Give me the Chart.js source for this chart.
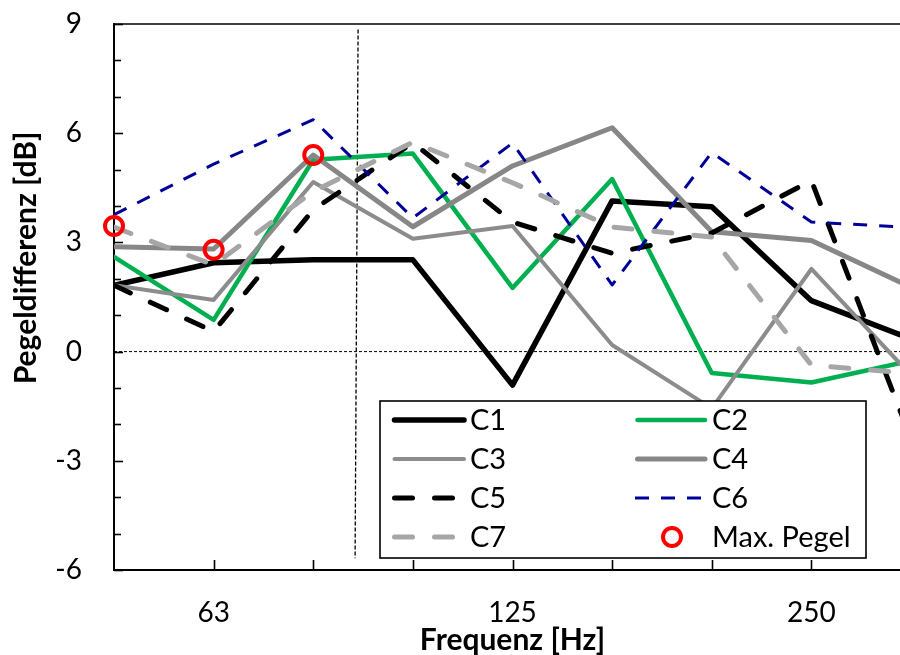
<!DOCTYPE html>
<html><head><meta charset="utf-8">
<script src="https://cdn.jsdelivr.net/npm/chart.js@4.4.1/dist/chart.umd.min.js"></script>
<style>
html,body{margin:0;padding:0;background:#fff;overflow:hidden;width:900px;height:655px}
#wrap{position:absolute;left:0;top:0;width:930px;height:655px}
</style>
</head><body><div id="wrap"><canvas id="c"></canvas></div>
<script>
// ---- data ----
const freqLabels = ['50','63','80','100','125','160','200','250','315'];
const shownTickLabels = ['63','125','250'];
const c1 = [1.82, 2.44, 2.52, 2.52, -0.92, 4.14, 3.98, 1.40, 0.35];
const c2 = [2.60, 0.87, 5.27, 5.44, 1.75, 4.74, -0.59, -0.85, -0.25];
const c3 = [1.82, 1.42, 4.66, 3.10, 3.45, 0.18, -1.56, 2.27, -0.65];
const c4 = [2.88, 2.82, 5.40, 3.43, 5.10, 6.15, 3.29, 3.05, 1.77];
const c5 = [1.82, 0.55, 3.90, 5.74, 3.56, 2.70, 3.26, 4.70, -2.40];
const c6 = [3.76, 5.15, 6.37, 3.67, 5.73, 1.83, 5.47, 3.56, 3.41];
const c7 = [3.42, 2.38, 4.40, 5.75, 4.64, 3.42, 3.15, -0.37, -0.60];
const maxPegel = [3.45, 2.80, 5.40, null, null, null, null, null, null];
const seriesNames = ['C1','C2','C3','C4','C5','C6','C7','Max. Pegel'];
const yTicks = [-6, -3, 0, 3, 6, 9];
const markerLineX = [2.45, 2.42];   // vertical marker (index position ~ 89 Hz)
const markerLineY = [8.85, -5.68];
const yTitle = 'Pegeldifferenz [dB]';
const xTitle = 'Frequenz [Hz]';

const toXY = arr => arr.map((v, i) => ({x: i, y: v}));
const FONT = 'Lato';

function lineDs(label, data, color, width, dash, order) {
  return {label, data: toXY(data), borderColor: color, backgroundColor: color,
    borderWidth: width, borderDash: dash || [], borderCapStyle: 'round',
    borderJoinStyle: 'round', pointRadius: 0, tension: 0, fill: false, order};
}

const datasets = [
  {label: seriesNames[7], data: toXY(maxPegel), showLine: false, pointStyle: 'circle',
   pointRadius: 9, pointBorderWidth: 4, pointBorderColor: '#ff0000',
   pointBackgroundColor: 'rgba(0,0,0,0)', borderColor: '#ff0000', order: 0, clip: false},
  lineDs(seriesNames[6], c7, '#a6a6a6', 5, [18, 22], 1),
  Object.assign(lineDs(seriesNames[5], c6, '#000099', 3, [14, 12], 2), {borderCapStyle: 'butt'}),
  lineDs(seriesNames[4], c5, '#000000', 5, [18, 22], 3),
  lineDs(seriesNames[3], c4, '#878787', 5, null, 4),
  lineDs(seriesNames[2], c3, '#8c8c8c', 4, null, 5),
  lineDs(seriesNames[1], c2, '#00b050', 4.5, null, 6),
  lineDs(seriesNames[0], c1, '#000000', 5.5, null, 7),
  {label: 'zero', data: [{x: 0, y: 0}, {x: freqLabels.length - 1, y: 0}], borderColor: '#000',
   borderWidth: 1, borderDash: [3, 2], pointRadius: 0, order: 9},
  {label: 'marker', data: markerLineX.map((x, i) => ({x, y: markerLineY[i]})), borderColor: '#000',
   borderWidth: 1.3, borderDash: [4, 2], pointRadius: 0, order: 8}
];

const extras = {
  id: 'extras',
  afterDatasetsDraw(chart) {
    const {ctx, chartArea: a, scales: {x, y}} = chart;
    ctx.save();
    ctx.strokeStyle = '#000'; ctx.lineWidth = 1.6;
    ctx.beginPath(); ctx.moveTo(a.left, a.top); ctx.lineTo(a.right, a.top); ctx.stroke();
    for (let v = yTicks[0]; v <= yTicks[yTicks.length - 1]; v += 1) {
      const py = Math.round(y.getPixelForValue(v)) + 0.5;
      const len = yTicks.includes(v) ? 9 : 7;
      ctx.beginPath(); ctx.moveTo(a.left, py); ctx.lineTo(a.left + len, py); ctx.stroke();
    }
    for (let i = 1; i < freqLabels.length - 1; i++) {
      const px = Math.round(x.getPixelForValue(i)) + 0.5;
      ctx.beginPath(); ctx.moveTo(px, a.bottom); ctx.lineTo(px, a.bottom - 10); ctx.stroke();
    }
    ctx.fillStyle = '#000';
    ctx.font = 'bold 30px ' + FONT;
    ctx.textAlign = 'center'; ctx.textBaseline = 'middle';
    ctx.translate(26, 258); ctx.rotate(-Math.PI / 2);
    ctx.fillText(yTitle, 0, 0);
    ctx.restore();

    // legend
    ctx.save();
    const bx = 380, by = 401, bw = 486, bh = 157;
    ctx.fillStyle = '#fff'; ctx.fillRect(bx, by, bw, bh);
    ctx.strokeStyle = '#000'; ctx.lineWidth = 1.6; ctx.strokeRect(bx, by, bw, bh);
    const rows = [['C1','C2'],['C3','C4'],['C5','C6'],['C7','Max. Pegel']];
    const cols = [{s: 392, e: 464, t: 470}, {s: 635, e: 705, t: 712}];
    const dsByLabel = {};
    chart.data.datasets.forEach(d => dsByLabel[d.label] = d);
    ctx.font = '29px ' + FONT; ctx.textBaseline = 'middle'; ctx.textAlign = 'left';
    rows.forEach((r, ri) => {
      const ry = 420 + ri * 39;
      r.forEach((lab, ci) => {
        const c = cols[ci], d = dsByLabel[lab];
        if (d.showLine === false) {
          ctx.beginPath(); ctx.strokeStyle = d.pointBorderColor; ctx.lineWidth = d.pointBorderWidth;
          ctx.setLineDash([]);
          ctx.arc(672, ry, d.pointRadius, 0, Math.PI * 2); ctx.stroke();
        } else {
          ctx.beginPath(); ctx.strokeStyle = d.borderColor; ctx.lineWidth = d.borderWidth;
          ctx.setLineDash(d.borderDash); ctx.lineCap = d.borderCapStyle || 'round';
          ctx.moveTo(c.s + (d.borderCapStyle === 'butt' ? 0 : 2.5), ry); ctx.lineTo(c.e, ry); ctx.stroke();
        }
        ctx.setLineDash([]);
        ctx.fillStyle = '#000';
        ctx.fillText(lab, c.t, ry + 1);
      });
    });
    ctx.restore();
  }
};

new Chart(document.getElementById('c'), {
  type: 'line',
  data: {datasets},
  plugins: [extras],
  options: {
    responsive: true, maintainAspectRatio: false, animation: false,
    layout: {padding: {top: 24, right: 19, left: 0, bottom: 0}},
    plugins: {legend: {display: false}, tooltip: {enabled: false}},
    scales: {
      x: {
        type: 'linear', min: 0, max: freqLabels.length - 1,
        afterFit: s => { s.height = 85; s.paddingLeft = 0; s.paddingRight = 0; },
        grid: {display: false, drawTicks: false},
        border: {display: true, color: '#000', width: 2},
        ticks: {stepSize: 1, autoSkip: false, maxRotation: 0, padding: 26, color: '#000',
          font: {family: FONT, size: 28},
          callback: v => shownTickLabels.includes(freqLabels[v]) ? freqLabels[v] : ''},
        title: {display: true, text: xTitle, color: '#000', padding: {top: 0, bottom: 0},
          font: {family: FONT, size: 30, weight: 'bold', lineHeight: 1}}
      },
      y: {
        type: 'linear', min: yTicks[0], max: yTicks[yTicks.length - 1],
        afterFit: s => { s.width = 114; s.paddingTop = 0; s.paddingBottom = 0; },
        grid: {display: false, drawTicks: false},
        border: {display: true, color: '#000', width: 2},
        ticks: {stepSize: 3, padding: 32, color: '#000', font: {family: FONT, size: 28}}
      }
    }
  }
});
</script>
</body></html>
